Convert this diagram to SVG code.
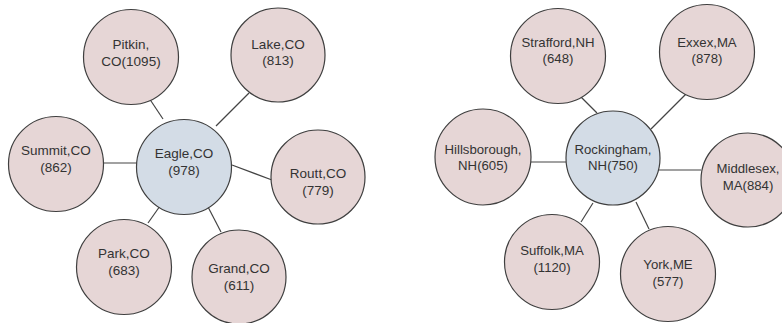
<svg xmlns="http://www.w3.org/2000/svg" width="782" height="323" viewBox="0 0 782 323">
<style>
.n{fill:#e6d6d6;stroke:#3f3f3f;stroke-width:1.2}
.c{fill:#d3dce6;stroke:#3f3f3f;stroke-width:1.2}
.e{stroke:#444;stroke-width:1.2;fill:none}
text{font-family:"Liberation Sans",Arial,sans-serif;font-size:13.5px;fill:#333;text-anchor:middle}
.r text{font-size:13.2px}
</style>
<rect width="782" height="323" fill="#fff"/>
<g id="connectors">
<line class="e" x1="149" y1="98" x2="163" y2="119"/>
<line class="e" x1="249" y1="93" x2="216" y2="126"/>
<line class="e" x1="104" y1="163" x2="137" y2="163"/>
<line class="e" x1="232" y1="165" x2="272" y2="180"/>
<line class="e" x1="160" y1="206" x2="148" y2="223"/>
<line class="e" x1="207" y1="205" x2="221" y2="232"/>
<line class="e" x1="578" y1="94" x2="597" y2="113"/>
<line class="e" x1="686" y1="94" x2="651" y2="129"/>
<line class="e" x1="531" y1="162" x2="566" y2="162"/>
<line class="e" x1="659" y1="170" x2="701" y2="170"/>
<line class="e" x1="593" y1="203" x2="581" y2="222"/>
<line class="e" x1="636" y1="202" x2="649" y2="229"/>
</g>
<g id="eagle"><circle class="c" cx="184" cy="167" r="47.5"/><text x="184" y="158">Eagle,CO</text><text x="184" y="175">(978)</text></g>
<g id="pitkin"><circle class="n" cx="131" cy="57" r="47.5"/><text x="131" y="49">Pitkin,</text><text x="131" y="66">CO(1095)</text></g>
<g id="lake"><circle class="n" cx="278" cy="55" r="47"/><text x="278" y="49">Lake,CO</text><text x="278" y="65">(813)</text></g>
<g id="summit"><circle class="n" cx="56" cy="164" r="47.5"/><text x="56" y="155">Summit,CO</text><text x="56" y="172">(862)</text></g>
<g id="routt"><circle class="n" cx="318" cy="177" r="47"/><text x="318" y="178">Routt,CO</text><text x="318" y="195">(779)</text></g>
<g id="park"><circle class="n" cx="124" cy="267" r="47.5"/><text x="124" y="258">Park,CO</text><text x="124" y="275">(683)</text></g>
<g id="grand"><circle class="n" cx="239" cy="277" r="47"/><text x="239" y="273">Grand,CO</text><text x="239" y="290">(611)</text></g>
<g class="r">
<g id="rockingham"><circle class="c" cx="613" cy="158" r="47"/><text x="613" y="154">Rockingham,</text><text x="613" y="170">NH(750)</text></g>
<g id="strafford"><circle class="n" cx="558" cy="56" r="47.5"/><text x="558" y="47">Strafford,NH</text><text x="558" y="63">(648)</text></g>
<g id="exxex"><circle class="n" cx="707" cy="52" r="47.5"/><text x="707" y="47">Exxex,MA</text><text x="707" y="63">(878)</text></g>
<g id="hillsborough"><circle class="n" cx="483" cy="157" r="48"/><text x="483" y="154">Hillsborough,</text><text x="483" y="170">NH(605)</text></g>
<g id="middlesex"><circle class="n" cx="748" cy="180" r="47"/><text x="748" y="173">Middlesex,</text><text x="748" y="190">MA(884)</text></g>
<g id="suffolk"><circle class="n" cx="552" cy="262" r="47.5"/><text x="552" y="255">Suffolk,MA</text><text x="552" y="272">(1120)</text></g>
<g id="york"><circle class="n" cx="668" cy="274" r="47.5"/><text x="668" y="269">York,ME</text><text x="668" y="286">(577)</text></g>
</g>
</svg>
